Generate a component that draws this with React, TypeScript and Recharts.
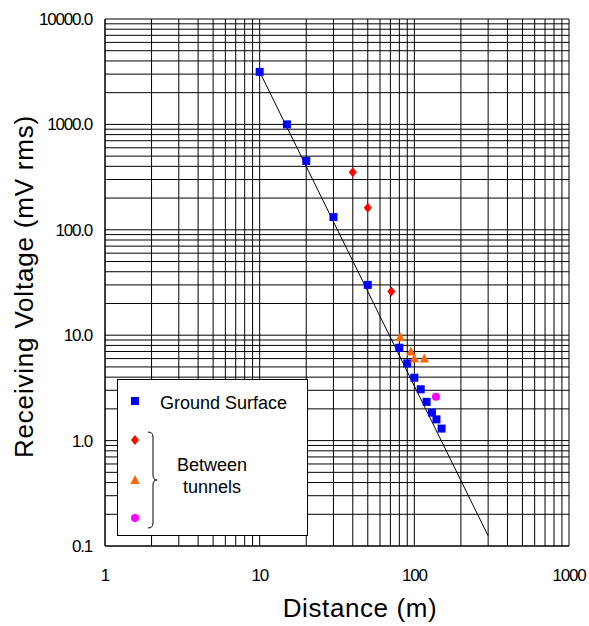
import React from "react";
import { ScatterChart, Scatter, XAxis, YAxis, ReferenceLine, Legend } from "recharts";

const xTicks = [1, 10, 100, 1000];
const yTicks = [0.1, 1, 10, 100, 1000, 10000];

const groundDist = [10, 15, 20, 30, 50, 80, 90, 100, 110, 120, 130, 139, 150];
const groundVolt = [3150, 1000, 450, 132, 30, 7.6, 5.4, 3.95, 3.07, 2.33, 1.84, 1.59, 1.3];

const redDist = [40, 50, 71];
const redVolt = [352, 162, 26];

const orangeDist = [81, 95, 100, 116];
const orangeVolt = [9.6, 7.0, 6.0, 6.0];

const pinkDist = [138];
const pinkVolt = [2.6];

const fitDist = [10, 300];
const fitVolt = [3150, 0.125];

const zip = (xs: number[], ys: number[]) => xs.map((x, i) => ({ x, y: ys[i] }));

const ground = zip(groundDist, groundVolt);
const red = zip(redDist, redVolt);
const orange = zip(orangeDist, orangeVolt);
const pink = zip(pinkDist, pinkVolt);
const fit = zip(fitDist, fitVolt);

// minor log grid: 1..9 in every decade
const xGrid = [1, 10, 100].flatMap((d) => [1, 2, 3, 4, 5, 6, 7, 8, 9].map((m) => m * d)).concat([1000]);
const yGrid = [0.1, 1, 10, 100, 1000].flatMap((d) => [1, 2, 3, 4, 5, 6, 7, 8, 9].map((m) => +(m * d).toPrecision(3))).concat([10000]);

const FONT = "'Liberation Sans', Arial, sans-serif";

const Square = (p: any) => <rect x={p.cx - 4} y={p.cy - 4} width={8} height={8} fill="#0000FF" />;
const Diamond = (p: any) => (
  <polygon points={`${p.cx},${p.cy - 5} ${p.cx + 4},${p.cy} ${p.cx},${p.cy + 5} ${p.cx - 4},${p.cy}`} fill="#FF0000" />
);
const Triangle = (p: any) => (
  <polygon points={`${p.cx},${p.cy - 5} ${p.cx + 4.5},${p.cy + 4} ${p.cx - 4.5},${p.cy + 4}`} fill="#FF6600" />
);
const Dot = (p: any) => <circle cx={p.cx} cy={p.cy} r={4} fill="#FF00FF" />;
const Nothing = () => <g />;

function LegendBox() {
  return (
    <div style={{ width: 191, height: 157, border: "1px solid #000", background: "#fff", boxSizing: "border-box" }}>
      <svg width={189} height={155} style={{ display: "block" }}>
        <Square cx={17} cy={21} />
        <text x={42} y={29} fontSize={18} fontFamily={FONT} fill="#000">Ground Surface</text>
        <Diamond cx={17} cy={60} />
        <Triangle cx={17} cy={100} />
        <Dot cx={17} cy={138} />
        <path d="M30,52 Q35,52 35,57 L35,95 Q35,100 39,100 Q35,100 35,105 L35,143 Q35,148 30,148" fill="none" stroke="#000" strokeWidth={1} />
        <text x={94} y={91} fontSize={18} fontFamily={FONT} textAnchor="middle" fill="#000">Between</text>
        <text x={94} y={113} fontSize={18} fontFamily={FONT} textAnchor="middle" fill="#000">tunnels</text>
      </svg>
    </div>
  );
}

export default function App() {
  return (
    <div style={{ position: "absolute", left: 0, top: 0, background: "#fff" }}>
      <ScatterChart width={589} height={626} margin={{ top: 19, right: 20, bottom: 0, left: 0 }}>
        <XAxis
          dataKey="x"
          type="number"
          scale="log"
          domain={[1, 1000]}
          ticks={xTicks}
          allowDataOverflow
          height={80}
          tickLine={false}
          tickMargin={17}
          axisLine={{ stroke: "#000" }}
          tick={{ fontSize: 17, fill: "#000", fontFamily: FONT, letterSpacing: -1.2 }}
          label={{
            content: ({ viewBox }: any) => (
              <text x={viewBox.x + viewBox.width / 2 + 23} y={viewBox.y + 71} textAnchor="middle" fontSize={26} letterSpacing={0.6} fontFamily={FONT} fill="#000">
                Distance (m)
              </text>
            ),
          }}
        />
        <YAxis
          dataKey="y"
          type="number"
          scale="log"
          domain={[0.1, 10000]}
          ticks={yTicks}
          allowDataOverflow
          width={105}
          tickLine={false}
          tickMargin={7}
          axisLine={{ stroke: "#000" }}
          tickFormatter={(v: number) => v.toFixed(1)}
          tick={{ fontSize: 17, fill: "#000", fontFamily: FONT, letterSpacing: -1.2 }}
          label={{
            content: ({ viewBox }: any) => {
              const cy = viewBox.y + viewBox.height / 2 + 4;
              return (
                <text x={33} y={cy} transform={`rotate(-90, 33, ${cy})`} textAnchor="middle" fontSize={26} letterSpacing={0.8} fontFamily={FONT} fill="#000">
                  Receiving Voltage (mV rms)
                </text>
              );
            },
          }}
        />
        {xGrid.map((v) => (
          <ReferenceLine key={"gx" + v} x={v} stroke="#000" strokeWidth={1} />
        ))}
        {yGrid.map((v) => (
          <ReferenceLine key={"gy" + v} y={v} stroke="#000" strokeWidth={1} />
        ))}
        <Scatter data={fit} line={{ stroke: "#000", strokeWidth: 1 }} shape={Nothing} isAnimationActive={false} />
        <Scatter data={ground} shape={Square} isAnimationActive={false} />
        <Scatter data={red} shape={Diamond} isAnimationActive={false} />
        <Scatter data={orange} shape={Triangle} isAnimationActive={false} />
        <Scatter data={pink} shape={Dot} isAnimationActive={false} />
        <Legend
          layout="horizontal"
          verticalAlign="middle"
          align="center"
          content={() => <LegendBox />}
          wrapperStyle={{ left: 117, top: 379, width: 191, height: 157 }}
        />
      </ScatterChart>
    </div>
  );
}
